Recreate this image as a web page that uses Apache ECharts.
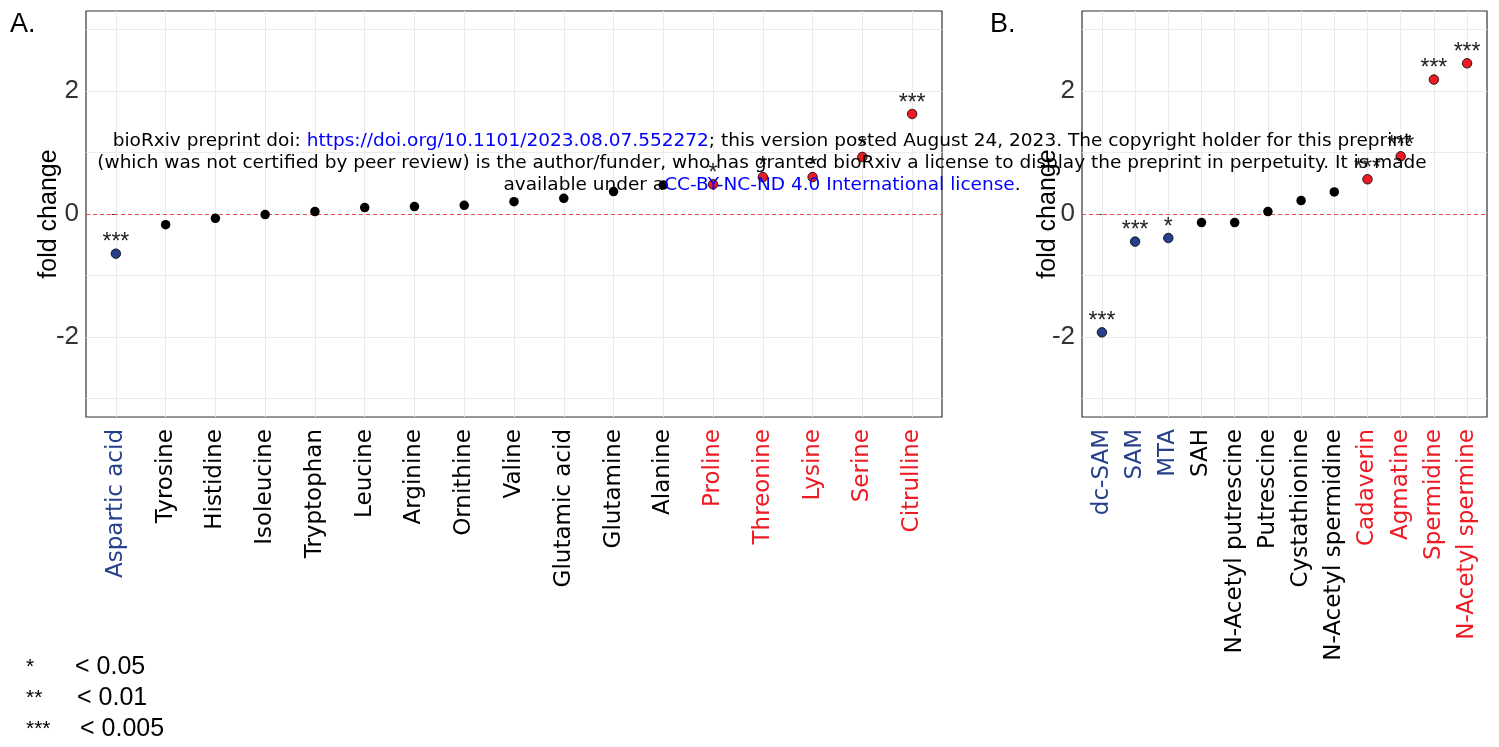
<!DOCTYPE html>
<html><head><meta charset="utf-8">
<script src="https://cdn.jsdelivr.net/npm/echarts@6/dist/echarts.min.js"></script>
<style>html,body{margin:0;padding:0;background:#fff}#c{width:1499px;height:747px}</style>
</head><body><div id="c"></div>
<script>
// ---------- data ----------
const catsA = ['Aspartic acid','Tyrosine','Histidine','Isoleucine','Tryptophan','Leucine','Arginine','Ornithine','Valine','Glutamic acid','Glutamine','Alanine','Proline','Threonine','Lysine','Serine','Citrulline'];
const valsA = [-0.645,-0.173,-0.07,-0.01,0.039,0.104,0.12,0.141,0.2,0.255,0.364,0.47,0.483,0.6,0.6,0.927,1.626];
const sigA  = ['***','','','','','','','','','','','','*','*','*','*','***'];
const groupA = ['down','ns','ns','ns','ns','ns','ns','ns','ns','ns','ns','ns','up','up','up','up','up'];

const catsB = ['dc-SAM','SAM','MTA','SAH','N-Acetyl putrescine','Putrescine','Cystathionine','N-Acetyl spermidine','Cadaverin','Agmatine','Spermidine','N-Acetyl spermine'];
const valsB = [-1.924,-0.449,-0.39,-0.14,-0.14,0.039,0.218,0.358,0.564,0.938,2.185,2.45];
const sigB  = ['***','***','*','','','','','','***','***','***','***'];
const groupB = ['down','down','down','ns','ns','ns','ns','ns','up','up','up','up'];

const yTickVals = [-2, 0, 2];
const yGridVals = [-3, -2, -1, 1, 2, 3];
const legendStars = ['*', '**', '***'];
const legendText = ['< 0.05', '< 0.01', '< 0.005'];

// ---------- styles ----------
const COL = {down:'#27408B', ns:'#000000', up:'#ee1b24'};
const FONT = 'Liberation Sans, Arial, sans-serif';

function idx(n){ const a=[]; for(let i=0;i<n;i++) a.push(i); return a; }

function buildPanel(gi, cats, vals, sig, group, nameGap){
  const ix = idx(cats.length);
  const xAxis = {
    gridIndex: gi, type:'value', min:-0.6, max:cats.length-1+0.6,
    splitLine:{show:false}, axisLine:{show:false},
    axisTick:{show:true, customValues: ix, length:4, lineStyle:{color:'#333', width:1}},
    axisLabel:{show:true, customValues: ix, rotate:90, margin:12,
      formatter: v => cats[Math.round(v)],
      color: v => COL[group[Math.round(v)]],
      fontSize:23, fontFamily:'DejaVu Sans'}
  };
  const yAxis = {
    gridIndex: gi, type:'value', min:-3.3, max:3.3,
    splitLine:{show:false}, axisLine:{show:false},
    axisTick:{show:true, customValues: yTickVals, length:4, lineStyle:{color:'#333', width:1}},
    axisLabel:{show:true, customValues: yTickVals, fontSize:26, color:'#333', margin:7, fontFamily:FONT},
    name:'fold change', nameLocation:'middle', nameGap:nameGap, nameMoveOverlap:false,
    nameTextStyle:{fontSize:25, color:'#000', fontFamily:FONT}
  };
  const gridSeries = {
    type:'scatter', xAxisIndex:gi, yAxisIndex:gi, data:[], z:1, silent:true,
    markLine:{
      silent:true, symbol:['none','none'], animation:false, label:{show:false},
      lineStyle:{color:'#ebebeb', width:1, type:'solid'},
      data: ix.map(v => ({xAxis:v})).concat(yGridVals.map(v => ({yAxis:v})))
    }
  };
  const zeroSeries = {
    type:'scatter', xAxisIndex:gi, yAxisIndex:gi, data:[], z:2, silent:true,
    markLine:{
      silent:true, symbol:['none','none'], animation:false, label:{show:false},
      lineStyle:{color:'#ef4b4b', width:1, type:[4,3]},
      data:[{yAxis:0}]
    }
  };
  const points = {
    type:'scatter', xAxisIndex:gi, yAxisIndex:gi, z:5, symbol:'circle', symbolSize:9.5,
    data: vals.map((v,i) => ({
      value:[i, v],
      itemStyle:{color:COL[group[i]], opacity:1, borderColor:'#000', borderWidth: group[i]==='ns'?0:0.8}
    })),
    itemStyle:{opacity:1},
    label:{show:true, position:'top', distance:0, offset:[0,6],
      formatter: p => sig[p.dataIndex], fontSize:23, color:'#222', fontFamily:FONT}
  };
  return {xAxis, yAxis, series:[gridSeries, zeroSeries, points]};
}

const pA = buildPanel(0, catsA, valsA, sigA, groupA, 24);
const pB = buildPanel(1, catsB, valsB, sigB, groupB, 21);

const WMF = 'DejaVu Sans';
const wmRich = {
  k:{fill:'#000', fontSize:18.5, fontFamily:WMF},
  b:{fill:'#0000ff', fontSize:18.5, fontFamily:WMF}
};
const wmLines = [
  '{k|bioRxiv preprint doi: }{b|https://doi.org/10.1101/2023.08.07.552272}{k|; this version posted August 24, 2023. The copyright holder for this preprint}',
  '{k|(which was not certified by peer review) is the author/funder, who has granted bioRxiv a license to display the preprint in perpetuity. It is made}',
  '{k|available under a}{b|CC-BY-NC-ND 4.0 International license}{k|.}'
];

const graphics = [
  {type:'text', left:10, top:11, style:{text:'A.', fontSize:27, fill:'#000', fontFamily:FONT}},
  {type:'text', left:990, top:11, style:{text:'B.', fontSize:27, fill:'#000', fontFamily:FONT}}
];
wmLines.forEach((t,i) => graphics.push({
  type:'text', x:762, y:141 + i*22, z:100,
  style:{text:t, rich:wmRich, align:'center', verticalAlign:'middle', fontSize:18.5, fontFamily:WMF, fill:'#000'}
}));
legendStars.forEach((s,i) => {
  graphics.push({type:'text', x:26, y:667 + i*31, style:{text:s, fontSize:21, fill:'#000', verticalAlign:'middle', fontFamily:FONT}});
  graphics.push({type:'text', x:[75,77,80][i], y:667 + i*31, style:{text:legendText[i], fontSize:25, fill:'#000', verticalAlign:'middle', fontFamily:FONT}});
});

const option = {
  animation:false,
  backgroundColor:'#fff',
  grid:[
    {left:86, top:11, width:856, height:406, show:true, borderColor:'#333', borderWidth:1.2, backgroundColor:'#fff', containLabel:false},
    {left:1082, top:11, width:405, height:406, show:true, borderColor:'#333', borderWidth:1.2, backgroundColor:'#fff', containLabel:false}
  ],
  xAxis:[pA.xAxis, pB.xAxis],
  yAxis:[pA.yAxis, pB.yAxis],
  series:[...pA.series, ...pB.series],
  graphic: graphics
};
const chart = echarts.init(document.getElementById('c'), null, {renderer:'canvas'});
chart.setOption(option);
</script></body></html>
